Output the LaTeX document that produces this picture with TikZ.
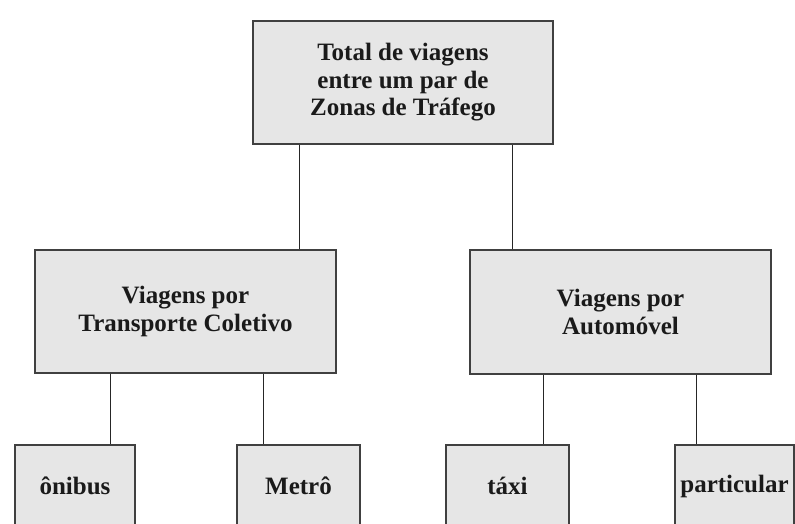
\documentclass[tikz,border=0pt]{standalone}
\usepackage{fontspec}
\setmainfont{Liberation Serif}
\definecolor{boxfill}{HTML}{E6E6E6}
\definecolor{boxline}{HTML}{404040}
\definecolor{txtgray}{HTML}{1A1A1A}
\begin{document}
\begin{tikzpicture}[x=1pt,y=-1pt,
  box/.style={draw=boxline,line width=1.4pt,fill=boxfill,inner sep=0pt,
    align=center,font=\fontsize{25}{27.5}\selectfont\bfseries,text=txtgray},
  link/.style={draw=black!85,line width=1pt}]
\useasboundingbox (0,0) rectangle (795,524);
\fill[white] (0,0) rectangle (795,524);
\node[box,minimum width=300pt,minimum height=123pt] (tot) at (403,82.5)
  {Total de viagens\\entre um par de\\Zonas de Tráfego};
\node[box,minimum width=301pt,minimum height=123pt] (col) at (185.5,311.5)
  {Viagens por\\Transporte Coletivo};
\node[box,minimum width=301pt,minimum height=124pt] (aut) at (620.5,312)
  {Viagens por\\Automóvel};
\node[box,minimum width=120pt,minimum height=82pt] (oni) at (75,486) {ônibus};
\node[box,minimum width=123pt,minimum height=82pt] (met) at (298.5,486) {Metrô};
\node[box,minimum width=123pt,minimum height=82pt] (tax) at (507.5,486) {táxi};
\node[box,minimum width=119pt,minimum height=82pt] (par) at (734.5,486) {particular};
\draw[link] (tot.south -| 299.5,0) -- (col.north -| 299.5,0);
\draw[link] (tot.south -| 512.5,0) -- (aut.north -| 512.5,0);
\draw[link] (col.south -| 110.5,0) -- (oni.north -| 110.5,0);
\draw[link] (col.south -| 263.5,0) -- (met.north -| 263.5,0);
\draw[link] (aut.south -| 543.5,0) -- (tax.north -| 543.5,0);
\draw[link] (aut.south -| 696.5,0) -- (par.north -| 696.5,0);
\end{tikzpicture}
\end{document}
